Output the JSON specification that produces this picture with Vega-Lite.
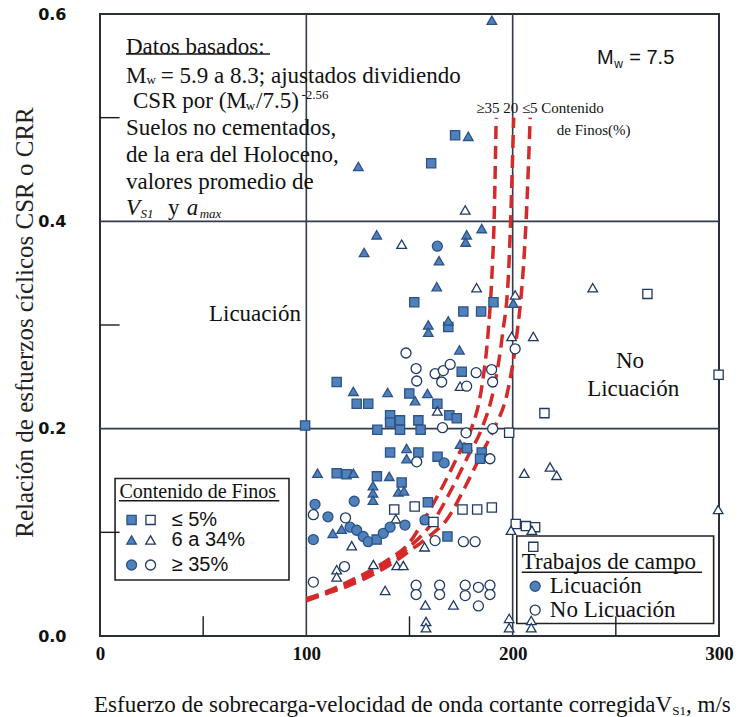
{
  "$schema": "https://vega.github.io/schema/vega-lite/v6.json",
  "width": 619,
  "height": 622,
  "autosize": {"type": "none"},
  "padding": {"left": 100, "top": 14, "right": 24, "bottom": 81},
  "background": "white",
  "config": {"view": {"stroke": "#2b2f38", "strokeWidth": 2}},
  "datasets": {
    "rules": [
      {"k": "g", "x": 100, "x2": 100, "y": 0, "y2": 0.6},
      {"k": "g", "x": 200, "x2": 200, "y": 0, "y2": 0.6},
      {"k": "g", "x": 0, "x2": 300, "y": 0.2, "y2": 0.2},
      {"k": "g", "x": 0, "x2": 300, "y": 0.4, "y2": 0.4},
      {"k": "t", "x": 50, "x2": 50, "y": 0, "y2": 0.019},
      {"k": "t", "x": 150, "x2": 150, "y": 0, "y2": 0.019},
      {"k": "t", "x": 250, "x2": 250, "y": 0, "y2": 0.019},
      {"k": "t", "x": 0, "x2": 9.5, "y": 0.1, "y2": 0.1},
      {"k": "t", "x": 0, "x2": 9.5, "y": 0.3, "y2": 0.3},
      {"k": "t", "x": 0, "x2": 9.5, "y": 0.5, "y2": 0.5},
      {"k": "u", "x": 12.6, "x2": 82.4, "y": 0.5614, "y2": 0.5614},
      {"k": "u", "x": 9.2, "x2": 86.9, "y": 0.1305, "y2": 0.1305},
      {"k": "u", "x": 204.4, "x2": 291.8, "y": 0.0615, "y2": 0.0615}
    ],
    "boxes": [
      {"x": 7.3, "x2": 91.6, "y": 0.054, "y2": 0.152},
      {"x": 202, "x2": 297.4, "y": 0.012, "y2": 0.0965}
    ],
    "curves": [
      {"c": "a", "i": 1, "x": 100, "y": 0.036}, {"c": "a", "i": 2, "x": 110, "y": 0.043}, {"c": "a", "i": 3, "x": 120, "y": 0.052}, {"c": "a", "i": 4, "x": 130, "y": 0.062}, {"c": "a", "i": 5, "x": 140, "y": 0.074}, {"c": "a", "i": 6, "x": 150, "y": 0.09}, {"c": "a", "i": 7, "x": 157, "y": 0.112}, {"c": "a", "i": 8, "x": 166, "y": 0.144}, {"c": "a", "i": 9, "x": 174, "y": 0.176}, {"c": "a", "i": 10, "x": 180, "y": 0.2}, {"c": "a", "i": 11, "x": 185, "y": 0.24}, {"c": "a", "i": 12, "x": 188, "y": 0.29}, {"c": "a", "i": 13, "x": 190, "y": 0.35}, {"c": "a", "i": 14, "x": 191, "y": 0.4}, {"c": "a", "i": 15, "x": 192, "y": 0.5},
      {"c": "b", "i": 1, "x": 100, "y": 0.035}, {"c": "b", "i": 2, "x": 110, "y": 0.042}, {"c": "b", "i": 3, "x": 120, "y": 0.05}, {"c": "b", "i": 4, "x": 130, "y": 0.06}, {"c": "b", "i": 5, "x": 140, "y": 0.071}, {"c": "b", "i": 6, "x": 150, "y": 0.086}, {"c": "b", "i": 7, "x": 162, "y": 0.112}, {"c": "b", "i": 8, "x": 171, "y": 0.144}, {"c": "b", "i": 9, "x": 179, "y": 0.176}, {"c": "b", "i": 10, "x": 185, "y": 0.2}, {"c": "b", "i": 11, "x": 191, "y": 0.24}, {"c": "b", "i": 12, "x": 195, "y": 0.29}, {"c": "b", "i": 13, "x": 198, "y": 0.35}, {"c": "b", "i": 14, "x": 199, "y": 0.4}, {"c": "b", "i": 15, "x": 200.5, "y": 0.5},
      {"c": "c", "i": 1, "x": 100, "y": 0.034}, {"c": "c", "i": 2, "x": 110, "y": 0.041}, {"c": "c", "i": 3, "x": 120, "y": 0.048}, {"c": "c", "i": 4, "x": 130, "y": 0.057}, {"c": "c", "i": 5, "x": 140, "y": 0.068}, {"c": "c", "i": 6, "x": 150, "y": 0.082}, {"c": "c", "i": 7, "x": 160, "y": 0.097}, {"c": "c", "i": 8, "x": 168, "y": 0.112}, {"c": "c", "i": 9, "x": 177, "y": 0.144}, {"c": "c", "i": 10, "x": 185, "y": 0.176}, {"c": "c", "i": 11, "x": 191, "y": 0.2}, {"c": "c", "i": 12, "x": 198, "y": 0.24}, {"c": "c", "i": 13, "x": 202, "y": 0.29}, {"c": "c", "i": 14, "x": 205, "y": 0.35}, {"c": "c", "i": 15, "x": 206.5, "y": 0.4}, {"c": "c", "i": 16, "x": 208.5, "y": 0.5}
    ],
    "leg": [
      {"f": "sq", "l": "L", "x": 15.3, "y": 0.112}, {"f": "sq", "l": "N", "x": 24.5, "y": 0.112},
      {"f": "tri", "l": "L", "x": 15.3, "y": 0.0926}, {"f": "tri", "l": "N", "x": 24.5, "y": 0.0926},
      {"f": "cir", "l": "L", "x": 15.3, "y": 0.0685}, {"f": "cir", "l": "N", "x": 24.5, "y": 0.0685},
      {"f": "cir", "l": "L", "x": 210.9, "y": 0.048}, {"f": "cir", "l": "N", "x": 210.9, "y": 0.025}
    ],
    "txt": [
      {"g": "bt", "t": "Datos basados:", "x": 12.6, "y": 0.5684},
      {"g": "bt", "t": "M", "x": 12.6, "y": 0.5403},
      {"g": "s", "t": "w", "x": 22.5, "y": 0.5365},
      {"g": "bt", "t": "= 5.9 a 8.3; ajustados dividiendo", "x": 29.5, "y": 0.5403},
      {"g": "bt", "t": "CSR por (M", "x": 16, "y": 0.5161},
      {"g": "s", "t": "w", "x": 70.6, "y": 0.5115},
      {"g": "bt", "t": "/7.5)", "x": 75.6, "y": 0.5161},
      {"g": "s", "t": "-2.56", "x": 97.6, "y": 0.5215},
      {"g": "bt", "t": "Suelos no cementados,", "x": 12.6, "y": 0.4897},
      {"g": "bt", "t": "de la era del Holoceno,", "x": 12.6, "y": 0.4639},
      {"g": "bt", "t": "valores promedio de", "x": 12.6, "y": 0.4382},
      {"g": "i", "t": "V", "x": 12.6, "y": 0.4125},
      {"g": "is", "t": "S1", "x": 19.6, "y": 0.4075},
      {"g": "bt", "t": "y", "x": 33, "y": 0.4125},
      {"g": "i", "t": "a", "x": 42, "y": 0.4125},
      {"g": "is", "t": "max", "x": 48.3, "y": 0.4075},
      {"g": "sa", "t": "M", "x": 240.9, "y": 0.5575},
      {"g": "sas", "t": "w", "x": 249.2, "y": 0.5515},
      {"g": "sa", "t": "= 7.5", "x": 256.5, "y": 0.5575},
      {"g": "sm", "t": "≥35 20 ≤5 Contenido", "x": 182.3, "y": 0.5093},
      {"g": "sm", "t": "de Finos(%)", "x": 221.4, "y": 0.488},
      {"g": "b", "t": "Licuación", "x": 52.8, "y": 0.311},
      {"g": "bc", "t": "No", "x": 256.9, "y": 0.265},
      {"g": "bc", "t": "Licuación", "x": 258.4, "y": 0.238},
      {"g": "l20", "t": "Contenido de Finos", "x": 9.4, "y": 0.139},
      {"g": "sa", "t": "≤ 5%", "x": 34.7, "y": 0.112},
      {"g": "sa", "t": "6 a 34%", "x": 34.7, "y": 0.0926},
      {"g": "sa", "t": "≥ 35%", "x": 34.7, "y": 0.0685},
      {"g": "b", "t": "Trabajos de campo", "x": 204.4, "y": 0.0717},
      {"g": "b", "t": "Licuación", "x": 218, "y": 0.048},
      {"g": "b", "t": "No Licuación", "x": 218, "y": 0.025},
      {"g": "br", "t": "Esfuerzo de sobrecarga-velocidad de onda cortante corregidaV", "x": 277.3, "y": -0.0666},
      {"g": "s", "t": "S1", "x": 277.3, "y": -0.0724},
      {"g": "b", "t": ", m/s", "x": 284, "y": -0.0666}
    ],
    "pts": [
      {"x": 189.9, "y": 0.594, "f": "tri", "l": "L"},
      {"x": 172.1, "y": 0.483, "f": "sq", "l": "L"},
      {"x": 178.5, "y": 0.482, "f": "tri", "l": "L"},
      {"x": 160.5, "y": 0.456, "f": "sq", "l": "L"},
      {"x": 125.2, "y": 0.453, "f": "tri", "l": "L"},
      {"x": 177, "y": 0.411, "f": "tri", "l": "N"},
      {"x": 185, "y": 0.393, "f": "tri", "l": "L"},
      {"x": 134.1, "y": 0.387, "f": "tri", "l": "L"},
      {"x": 177.7, "y": 0.387, "f": "tri", "l": "L"},
      {"x": 177.2, "y": 0.38, "f": "tri", "l": "L"},
      {"x": 146.2, "y": 0.378, "f": "tri", "l": "N"},
      {"x": 163.5, "y": 0.376, "f": "cir", "l": "L"},
      {"x": 128, "y": 0.37, "f": "tri", "l": "L"},
      {"x": 164.3, "y": 0.362, "f": "tri", "l": "L"},
      {"x": 163.2, "y": 0.337, "f": "tri", "l": "L"},
      {"x": 182.5, "y": 0.336, "f": "tri", "l": "N"},
      {"x": 238.8, "y": 0.336, "f": "tri", "l": "N"},
      {"x": 265.3, "y": 0.33, "f": "sq", "l": "N"},
      {"x": 201.2, "y": 0.329, "f": "tri", "l": "N"},
      {"x": 152.3, "y": 0.322, "f": "sq", "l": "L"},
      {"x": 190.7, "y": 0.322, "f": "sq", "l": "L"},
      {"x": 200.3, "y": 0.321, "f": "tri", "l": "L"},
      {"x": 176.1, "y": 0.313, "f": "sq", "l": "L"},
      {"x": 184.7, "y": 0.313, "f": "sq", "l": "L"},
      {"x": 159.1, "y": 0.3, "f": "tri", "l": "L"},
      {"x": 159.1, "y": 0.293, "f": "tri", "l": "L"},
      {"x": 168.8, "y": 0.298, "f": "sq", "l": "L"},
      {"x": 168.8, "y": 0.304, "f": "tri", "l": "L"},
      {"x": 199.5, "y": 0.289, "f": "tri", "l": "N"},
      {"x": 210, "y": 0.289, "f": "tri", "l": "N"},
      {"x": 201.2, "y": 0.277, "f": "cir", "l": "N"},
      {"x": 174.2, "y": 0.276, "f": "tri", "l": "L"},
      {"x": 148.3, "y": 0.273, "f": "cir", "l": "N"},
      {"x": 153.2, "y": 0.258, "f": "cir", "l": "N"},
      {"x": 153.5, "y": 0.246, "f": "cir", "l": "N"},
      {"x": 162.4, "y": 0.253, "f": "cir", "l": "N"},
      {"x": 166.4, "y": 0.256, "f": "cir", "l": "N"},
      {"x": 169.7, "y": 0.262, "f": "cir", "l": "N"},
      {"x": 165.6, "y": 0.245, "f": "cir", "l": "N"},
      {"x": 175.3, "y": 0.255, "f": "sq", "l": "L"},
      {"x": 182.3, "y": 0.254, "f": "cir", "l": "N"},
      {"x": 189.8, "y": 0.257, "f": "cir", "l": "N"},
      {"x": 190.3, "y": 0.245, "f": "cir", "l": "N"},
      {"x": 299.8, "y": 0.252, "f": "sq", "l": "N"},
      {"x": 174.5, "y": 0.241, "f": "tri", "l": "N"},
      {"x": 177.7, "y": 0.241, "f": "cir", "l": "N"},
      {"x": 114.7, "y": 0.245, "f": "sq", "l": "L"},
      {"x": 122.8, "y": 0.236, "f": "tri", "l": "L"},
      {"x": 139.4, "y": 0.235, "f": "tri", "l": "L"},
      {"x": 149.9, "y": 0.234, "f": "sq", "l": "L"},
      {"x": 158.7, "y": 0.234, "f": "tri", "l": "L"},
      {"x": 152.7, "y": 0.227, "f": "tri", "l": "L"},
      {"x": 124.4, "y": 0.224, "f": "sq", "l": "L"},
      {"x": 130, "y": 0.224, "f": "sq", "l": "L"},
      {"x": 163.5, "y": 0.224, "f": "sq", "l": "L"},
      {"x": 163.5, "y": 0.217, "f": "tri", "l": "N"},
      {"x": 215.4, "y": 0.215, "f": "sq", "l": "N"},
      {"x": 169.3, "y": 0.213, "f": "sq", "l": "L"},
      {"x": 172.9, "y": 0.21, "f": "sq", "l": "L"},
      {"x": 140.6, "y": 0.213, "f": "sq", "l": "L"},
      {"x": 140.6, "y": 0.206, "f": "sq", "l": "L"},
      {"x": 145.4, "y": 0.208, "f": "sq", "l": "L"},
      {"x": 154.3, "y": 0.208, "f": "sq", "l": "L"},
      {"x": 155.4, "y": 0.199, "f": "sq", "l": "L"},
      {"x": 145.4, "y": 0.199, "f": "sq", "l": "L"},
      {"x": 134.4, "y": 0.199, "f": "sq", "l": "L"},
      {"x": 99.4, "y": 0.203, "f": "sq", "l": "L"},
      {"x": 166, "y": 0.201, "f": "cir", "l": "N"},
      {"x": 177.4, "y": 0.196, "f": "cir", "l": "N"},
      {"x": 190.3, "y": 0.2, "f": "cir", "l": "N"},
      {"x": 198.3, "y": 0.196, "f": "sq", "l": "N"},
      {"x": 140.6, "y": 0.177, "f": "sq", "l": "L"},
      {"x": 148.6, "y": 0.181, "f": "tri", "l": "L"},
      {"x": 148.6, "y": 0.171, "f": "tri", "l": "L"},
      {"x": 154.3, "y": 0.177, "f": "sq", "l": "L"},
      {"x": 153.5, "y": 0.168, "f": "cir", "l": "N"},
      {"x": 163.6, "y": 0.173, "f": "sq", "l": "L"},
      {"x": 166.8, "y": 0.167, "f": "cir", "l": "L"},
      {"x": 174.5, "y": 0.185, "f": "tri", "l": "L"},
      {"x": 177.9, "y": 0.181, "f": "sq", "l": "L"},
      {"x": 185, "y": 0.177, "f": "sq", "l": "L"},
      {"x": 184.2, "y": 0.171, "f": "sq", "l": "L"},
      {"x": 189, "y": 0.171, "f": "cir", "l": "N"},
      {"x": 205.6, "y": 0.157, "f": "tri", "l": "N"},
      {"x": 218.1, "y": 0.163, "f": "tri", "l": "N"},
      {"x": 221.3, "y": 0.155, "f": "tri", "l": "N"},
      {"x": 105.4, "y": 0.157, "f": "tri", "l": "L"},
      {"x": 114.7, "y": 0.157, "f": "sq", "l": "L"},
      {"x": 119.5, "y": 0.156, "f": "sq", "l": "L"},
      {"x": 122.8, "y": 0.157, "f": "tri", "l": "L"},
      {"x": 134.2, "y": 0.154, "f": "sq", "l": "L"},
      {"x": 140.2, "y": 0.154, "f": "tri", "l": "L"},
      {"x": 146.2, "y": 0.148, "f": "sq", "l": "L"},
      {"x": 144.6, "y": 0.139, "f": "tri", "l": "L"},
      {"x": 147.3, "y": 0.14, "f": "tri", "l": "L"},
      {"x": 132.3, "y": 0.145, "f": "tri", "l": "L"},
      {"x": 132.3, "y": 0.138, "f": "tri", "l": "L"},
      {"x": 132.3, "y": 0.131, "f": "tri", "l": "L"},
      {"x": 104.2, "y": 0.127, "f": "cir", "l": "L"},
      {"x": 103.4, "y": 0.117, "f": "cir", "l": "N"},
      {"x": 123.2, "y": 0.13, "f": "cir", "l": "L"},
      {"x": 110.5, "y": 0.115, "f": "cir", "l": "L"},
      {"x": 119, "y": 0.114, "f": "cir", "l": "N"},
      {"x": 142.6, "y": 0.122, "f": "sq", "l": "N"},
      {"x": 143.4, "y": 0.113, "f": "tri", "l": "N"},
      {"x": 152.5, "y": 0.125, "f": "sq", "l": "N"},
      {"x": 158.9, "y": 0.129, "f": "sq", "l": "L"},
      {"x": 175.7, "y": 0.122, "f": "sq", "l": "N"},
      {"x": 182.8, "y": 0.122, "f": "sq", "l": "N"},
      {"x": 189.9, "y": 0.124, "f": "sq", "l": "N"},
      {"x": 201.5, "y": 0.108, "f": "sq", "l": "N"},
      {"x": 206.4, "y": 0.106, "f": "sq", "l": "N"},
      {"x": 210.9, "y": 0.105, "f": "sq", "l": "N"},
      {"x": 199.2, "y": 0.102, "f": "tri", "l": "N"},
      {"x": 209.3, "y": 0.102, "f": "tri", "l": "N"},
      {"x": 210, "y": 0.086, "f": "sq", "l": "N"},
      {"x": 299.6, "y": 0.122, "f": "tri", "l": "N"},
      {"x": 112.8, "y": 0.099, "f": "tri", "l": "L"},
      {"x": 117.1, "y": 0.103, "f": "tri", "l": "L"},
      {"x": 121.2, "y": 0.105, "f": "cir", "l": "L"},
      {"x": 124.4, "y": 0.102, "f": "cir", "l": "L"},
      {"x": 127.6, "y": 0.096, "f": "cir", "l": "L"},
      {"x": 130, "y": 0.091, "f": "cir", "l": "L"},
      {"x": 134.1, "y": 0.093, "f": "sq", "l": "L"},
      {"x": 137.3, "y": 0.099, "f": "cir", "l": "L"},
      {"x": 140.6, "y": 0.105, "f": "cir", "l": "L"},
      {"x": 147.8, "y": 0.107, "f": "cir", "l": "L"},
      {"x": 103.4, "y": 0.093, "f": "cir", "l": "L"},
      {"x": 157.5, "y": 0.112, "f": "cir", "l": "L"},
      {"x": 161.6, "y": 0.11, "f": "sq", "l": "N"},
      {"x": 162.4, "y": 0.092, "f": "cir", "l": "N"},
      {"x": 168.4, "y": 0.096, "f": "sq", "l": "L"},
      {"x": 176.1, "y": 0.091, "f": "cir", "l": "N"},
      {"x": 181.8, "y": 0.091, "f": "cir", "l": "N"},
      {"x": 157.3, "y": 0.086, "f": "tri", "l": "N"},
      {"x": 122, "y": 0.087, "f": "tri", "l": "N"},
      {"x": 132.5, "y": 0.069, "f": "tri", "l": "N"},
      {"x": 143.8, "y": 0.068, "f": "tri", "l": "N"},
      {"x": 147, "y": 0.068, "f": "tri", "l": "N"},
      {"x": 118.5, "y": 0.067, "f": "cir", "l": "N"},
      {"x": 114.7, "y": 0.064, "f": "tri", "l": "N"},
      {"x": 114.7, "y": 0.057, "f": "tri", "l": "N"},
      {"x": 103.4, "y": 0.052, "f": "cir", "l": "N"},
      {"x": 138.2, "y": 0.044, "f": "tri", "l": "N"},
      {"x": 153.2, "y": 0.049, "f": "cir", "l": "N"},
      {"x": 153.2, "y": 0.04, "f": "cir", "l": "N"},
      {"x": 164.6, "y": 0.049, "f": "cir", "l": "N"},
      {"x": 164.6, "y": 0.04, "f": "cir", "l": "N"},
      {"x": 157.7, "y": 0.03, "f": "tri", "l": "N"},
      {"x": 171.3, "y": 0.03, "f": "tri", "l": "N"},
      {"x": 177, "y": 0.049, "f": "cir", "l": "N"},
      {"x": 177, "y": 0.039, "f": "cir", "l": "N"},
      {"x": 183.4, "y": 0.047, "f": "cir", "l": "N"},
      {"x": 183.4, "y": 0.029, "f": "cir", "l": "N"},
      {"x": 189, "y": 0.049, "f": "cir", "l": "N"},
      {"x": 189, "y": 0.04, "f": "cir", "l": "N"},
      {"x": 158, "y": 0.014, "f": "tri", "l": "N"},
      {"x": 158, "y": 0.008, "f": "tri", "l": "N"},
      {"x": 198.3, "y": 0.017, "f": "tri", "l": "N"},
      {"x": 198.3, "y": 0.008, "f": "tri", "l": "N"},
      {"x": 209, "y": 0.015, "f": "tri", "l": "N"},
      {"x": 209, "y": 0.008, "f": "tri", "l": "N"}
    ]
  },
  "encoding": {
    "x": {"field": "x", "type": "quantitative",
      "scale": {"domain": [0, 300], "nice": false, "zero": false},
      "axis": {"values": [0, 100, 200, 300], "grid": false, "domain": false, "ticks": false, "title": null,
        "labelFont": "Liberation Serif", "labelFontWeight": "bold", "labelFontSize": 19, "labelColor": "#111", "labelPadding": 8, "labelFlush": false}},
    "y": {"field": "y", "type": "quantitative",
      "scale": {"domain": [0, 0.6], "nice": false, "zero": false},
      "axis": {"values": [0, 0.2, 0.4, 0.6], "format": ".1f", "grid": false, "domain": false, "ticks": false,
        "labelFont": "DejaVu Sans", "labelFontWeight": "bold", "labelFontSize": 16, "labelColor": "#111", "labelPadding": 34,
        "title": "Relación de esfuerzos cíclicos CSR o CRR", "titleFont": "Liberation Serif", "titleFontSize": 25, "titleFontWeight": "normal", "titleColor": "#222",
        "titleX": -76, "titleY": 308, "titleAngle": 270, "titleAlign": "center", "titleBaseline": "middle"}}
  },
  "layer": [
    {"data": {"name": "rules"}, "transform": [{"filter": "datum.k == 'g'"}],
      "mark": {"type": "rule", "color": "#333a48", "strokeWidth": 1.6},
      "encoding": {"x2": {"field": "x2"}, "y2": {"field": "y2"}}},
    {"data": {"name": "boxes"},
      "mark": {"type": "rect", "fill": "white", "stroke": "#222", "strokeWidth": 1.6},
      "encoding": {"x2": {"field": "x2"}, "y2": {"field": "y2"}}},
    {"data": {"name": "curves"},
      "mark": {"type": "line", "color": "#d42a2a", "strokeWidth": 3.5, "strokeDash": [13, 7], "interpolate": "monotone"},
      "encoding": {"detail": {"field": "c"}, "order": {"field": "i", "type": "quantitative"}}},
    {"data": {"name": "pts"},
      "mark": {"type": "point", "filled": true, "strokeWidth": 1.3, "opacity": 1},
      "encoding": {
        "shape": {"field": "f", "type": "nominal", "scale": {"domain": ["sq", "tri", "cir"], "range": ["square", "triangle-up", "circle"]}, "legend": null},
        "size": {"field": "f", "type": "nominal", "scale": {"domain": ["sq", "tri", "cir"], "range": [85, 100, 72]}, "legend": null},
        "fill": {"field": "l", "type": "nominal", "scale": {"domain": ["L", "N"], "range": ["#4f81bd", "#ffffff"]}, "legend": null},
        "stroke": {"field": "l", "type": "nominal", "scale": {"domain": ["L", "N"], "range": ["#2d5286", "#1f3864"]}, "legend": null}}},
    {"data": {"name": "leg"},
      "mark": {"type": "point", "filled": true, "strokeWidth": 1.3, "opacity": 1},
      "encoding": {
        "shape": {"field": "f", "type": "nominal", "legend": null},
        "size": {"field": "f", "type": "nominal", "legend": null},
        "fill": {"field": "l", "type": "nominal", "legend": null},
        "stroke": {"field": "l", "type": "nominal", "legend": null}}},
    {"data": {"name": "rules"}, "transform": [{"filter": "datum.k != 'g'"}],
      "mark": {"type": "rule", "color": "#1a1a1a", "strokeWidth": 1.4},
      "encoding": {"x2": {"field": "x2"}, "y2": {"field": "y2"}}},
    {"data": {"name": "txt"}, "transform": [{"filter": "datum.g == 'bt'"}],
      "mark": {"type": "text", "font": "Liberation Serif", "fontSize": 23, "align": "left", "baseline": "middle", "color": "#111"},
      "encoding": {"text": {"field": "t"}}},
    {"data": {"name": "txt"}, "transform": [{"filter": "datum.g == 'b'"}],
      "mark": {"type": "text", "font": "Liberation Serif", "fontSize": 23, "align": "left", "baseline": "middle", "color": "#111"},
      "encoding": {"text": {"field": "t"}}},
    {"data": {"name": "txt"}, "transform": [{"filter": "datum.g == 'bc'"}],
      "mark": {"type": "text", "font": "Liberation Serif", "fontSize": 23, "align": "center", "baseline": "middle", "color": "#111"},
      "encoding": {"text": {"field": "t"}}},
    {"data": {"name": "txt"}, "transform": [{"filter": "datum.g == 'br'"}],
      "mark": {"type": "text", "font": "Liberation Serif", "fontSize": 23, "align": "right", "baseline": "middle", "color": "#111"},
      "encoding": {"text": {"field": "t"}}},
    {"data": {"name": "txt"}, "transform": [{"filter": "datum.g == 's'"}],
      "mark": {"type": "text", "font": "Liberation Serif", "fontSize": 13, "align": "left", "baseline": "middle", "color": "#111"},
      "encoding": {"text": {"field": "t"}}},
    {"data": {"name": "txt"}, "transform": [{"filter": "datum.g == 'i'"}],
      "mark": {"type": "text", "font": "Liberation Serif", "fontSize": 23, "fontStyle": "italic", "align": "left", "baseline": "middle", "color": "#111"},
      "encoding": {"text": {"field": "t"}}},
    {"data": {"name": "txt"}, "transform": [{"filter": "datum.g == 'is'"}],
      "mark": {"type": "text", "font": "Liberation Serif", "fontSize": 13, "fontStyle": "italic", "align": "left", "baseline": "middle", "color": "#111"},
      "encoding": {"text": {"field": "t"}}},
    {"data": {"name": "txt"}, "transform": [{"filter": "datum.g == 'sa'"}],
      "mark": {"type": "text", "font": "Liberation Sans", "fontSize": 20, "align": "left", "baseline": "middle", "color": "#111"},
      "encoding": {"text": {"field": "t"}}},
    {"data": {"name": "txt"}, "transform": [{"filter": "datum.g == 'sas'"}],
      "mark": {"type": "text", "font": "Liberation Sans", "fontSize": 12, "align": "left", "baseline": "middle", "color": "#111"},
      "encoding": {"text": {"field": "t"}}},
    {"data": {"name": "txt"}, "transform": [{"filter": "datum.g == 'sm'"}],
      "mark": {"type": "text", "font": "Liberation Serif", "fontSize": 15, "align": "left", "baseline": "middle", "color": "#111"},
      "encoding": {"text": {"field": "t"}}},
    {"data": {"name": "txt"}, "transform": [{"filter": "datum.g == 'l20'"}],
      "mark": {"type": "text", "font": "Liberation Serif", "fontSize": 20, "align": "left", "baseline": "middle", "color": "#111"},
      "encoding": {"text": {"field": "t"}}}
  ]
}
